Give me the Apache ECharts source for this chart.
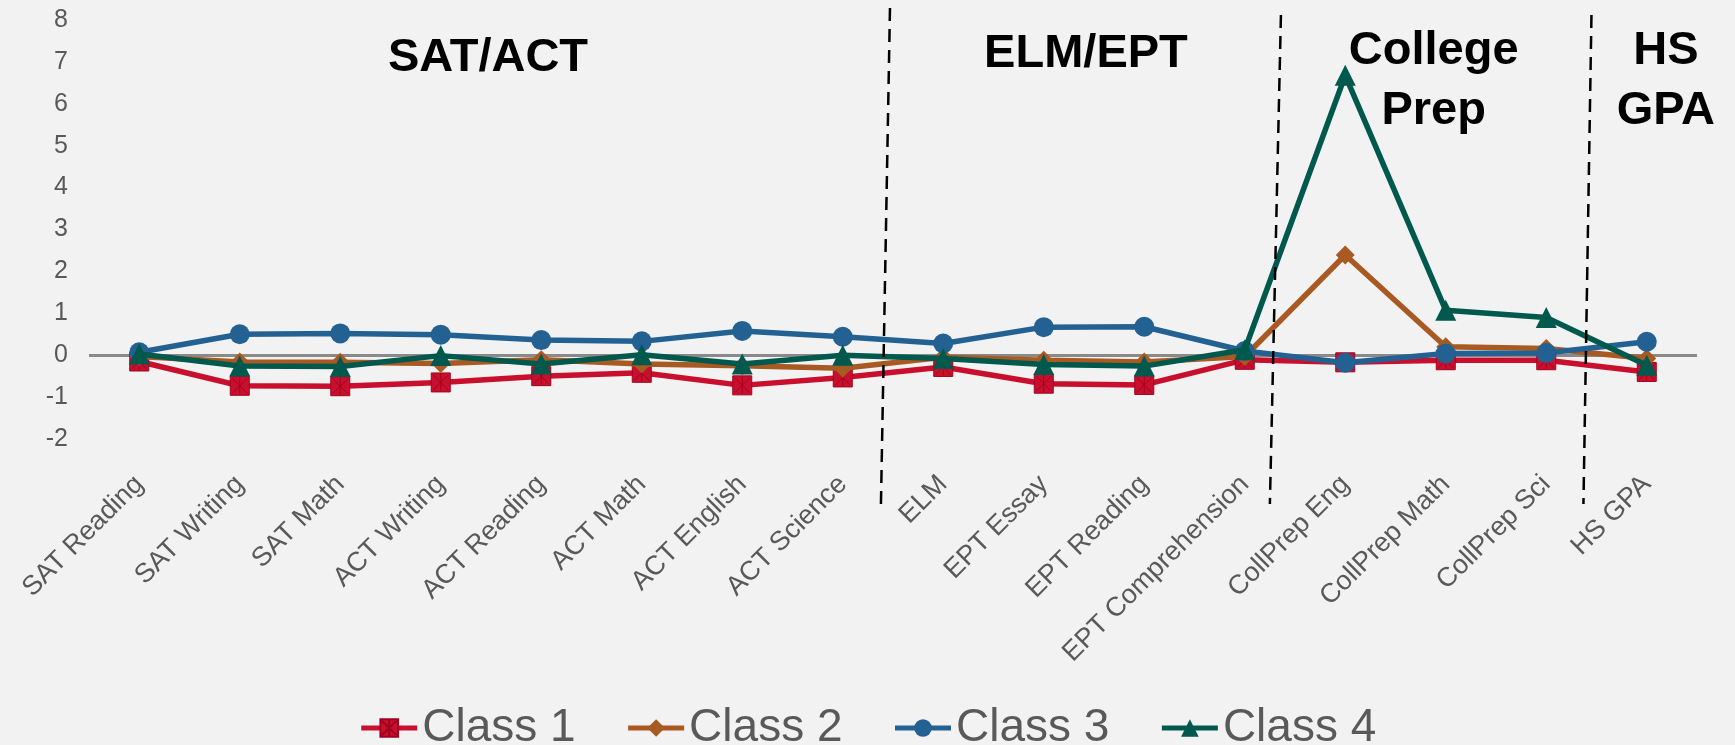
<!DOCTYPE html>
<html>
<head>
<meta charset="utf-8">
<title>Class profiles</title>
<script src="https://cdn.jsdelivr.net/npm/echarts@6/dist/echarts.min.js"></script>
<style>
  html, body { margin: 0; padding: 0; background: #f2f2f2; }
  #chart { width: 1735px; height: 745px; }
</style>
</head>
<body>
<div id="chart"></div>
<script>
// categories on the x axis
const categories = [
  "SAT Reading", "SAT Writing", "SAT Math", "ACT Writing", "ACT Reading",
  "ACT Math", "ACT English", "ACT Science", "ELM", "EPT Essay",
  "EPT Reading", "EPT Comprehension", "CollPrep Eng", "CollPrep Math",
  "CollPrep Sci", "HS GPA",
];
const seriesNames = ["Class 1", "Class 2", "Class 3", "Class 4"];
const class1 = [-0.15, -0.73, -0.74, -0.65, -0.5, -0.42, -0.72, -0.53, -0.28, -0.68, -0.71, -0.11, -0.17, -0.12, -0.12, -0.4];
const class2 = [-0.03, -0.16, -0.17, -0.2, -0.11, -0.21, -0.25, -0.31, -0.05, -0.12, -0.16, -0.03, 2.39, 0.2, 0.16, -0.08];
const class3 = [0.07, 0.5, 0.52, 0.49, 0.36, 0.33, 0.58, 0.44, 0.28, 0.67, 0.68, 0.1, -0.18, 0.04, 0.05, 0.32];
const class4 = [0.03, -0.26, -0.27, -0.01, -0.21, 0.01, -0.21, 0.0, -0.08, -0.22, -0.26, 0.13, 6.68, 1.07, 0.9, -0.24];
const yTicks = [-2, -1, 0, 1, 2, 3, 4, 5, 6, 7, 8];

// section headers and dashed separators (positions in category units)
const sectionTitles = ["SAT/ACT", "ELM/EPT", "College\nPrep", "HS\nGPA"];
const sectionCenters = [3.47, 9.42, 12.88, 15.19];
const sectionY = [58, 54, 81, 81];
const dividers = [[7.47, 7.38], [11.36, 11.25], [14.45, 14.37]];

const FONT = "'Liberation Sans', Arial, sans-serif";
const colors = ["#C8102E", "#A85A22", "#236192", "#00594C"];
// square with an asterisk inside, like the Excel marker
const starSquare = "path://M0,0L20,0L20,20L0,20Z M2,2L18,18 M18,2L2,18 M10,1L10,19";
const symbols = [starSquare, "diamond", "circle", "triangle"];
const symbolSizes = [19, 19, 20, 21];
const borders = [{ borderColor: "#A3001F", borderWidth: 1 }, {}, {}, {}];
const allData = [class1, class2, class3, class4];

const myChart = echarts.init(document.getElementById("chart"));

let option = {
  backgroundColor: "#f2f2f2",
  animation: false,
  color: colors,
  textStyle: { fontFamily: FONT },
  grid: { left: 89, right: 38, top: 20, bottom: 306, containLabel: false },
  legend: {
    data: seriesNames,
    left: "center",
    top: 700,
    itemWidth: 56,
    itemHeight: 22,
    itemGap: 50,
    lineStyle: { width: 5 },
    textStyle: { fontSize: 46, color: "#595959", fontFamily: FONT },
  },
  xAxis: {
    type: "category",
    data: categories,
    boundaryGap: true,
    axisLine: { show: false },
    axisTick: { show: false },
    axisLabel: {
      interval: 0,
      rotate: 45,
      margin: 41,
      fontSize: 27,
      color: "#595959",
      fontFamily: FONT,
    },
  },
  yAxis: {
    type: "value",
    min: yTicks[0],
    max: yTicks[yTicks.length - 1],
    interval: 1,
    axisLine: { show: false },
    axisTick: { show: false },
    axisLabel: { fontSize: 25, color: "#595959", margin: 21, fontFamily: FONT },
    // only the zero line is drawn
    splitLine: {
      show: true,
      lineStyle: {
        width: 3,
        color: yTicks.map((t) => (t === 0 ? "#8a8a8a" : "rgba(0,0,0,0)")),
      },
    },
  },
  series: [],
};

let tempSeries = [];
seriesNames.map((name, index) => {
  tempSeries.push({
    name: name,
    type: "line",
    data: allData[index],
    symbol: symbols[index],
    symbolSize: symbolSizes[index],
    showAllSymbol: true,
    lineStyle: { width: 5.5, color: colors[index] },
    itemStyle: Object.assign({ color: colors[index] }, borders[index]),
    z: 2 + index,
  });
});
option.series = tempSeries;
myChart.setOption(option);

// x pixel for a fractional category position
const xAt = (f) => {
  const i = Math.floor(f);
  const a = myChart.convertToPixel({ xAxisIndex: 0 }, i);
  const b = myChart.convertToPixel({ xAxisIndex: 0 }, i + 1);
  return a + (b - a) * (f - i);
};
const yTop = myChart.convertToPixel({ yAxisIndex: 0 }, yTicks[yTicks.length - 1]);
const yBottom = myChart.convertToPixel({ yAxisIndex: 0 }, yTicks[0]);

let graphics = [];
dividers.map((d, i) => {
  graphics.push({
    type: "line",
    shape: {
      x1: xAt(d[0]),
      y1: yTop - (i === 0 ? 12 : 5),
      x2: xAt(d[1]),
      y2: yBottom + 65,
    },
    style: { stroke: "#000", lineWidth: 2.5, lineDash: [13, 8] },
    z: 10,
  });
});
sectionTitles.map((t, i) => {
  graphics.push({
    type: "text",
    x: xAt(sectionCenters[i]),
    y: sectionY[i],
    style: {
      text: t,
      font: "bold 47px " + FONT,
      fill: "#000",
      align: "center",
      verticalAlign: "middle",
      textAlign: "center",
      textVerticalAlign: "middle",
      lineHeight: 60,
    },
    z: 10,
  });
});
myChart.setOption({ graphic: graphics });
</script>
</body>
</html>
